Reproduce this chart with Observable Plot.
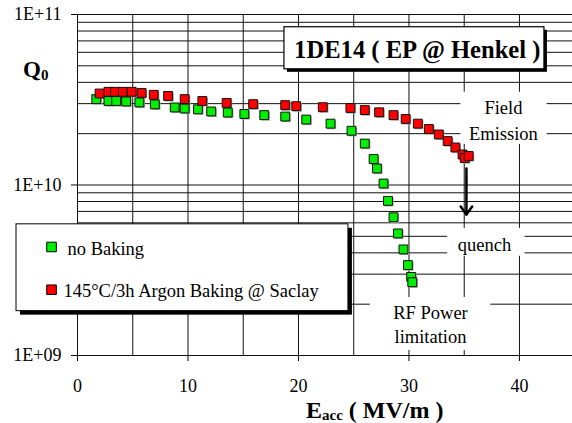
<!DOCTYPE html>
<html><head><meta charset="utf-8">
<script src="https://cdn.jsdelivr.net/npm/d3@7"></script>
<script src="https://cdn.jsdelivr.net/npm/@observablehq/plot@0.6"></script>
<style>
body{margin:0;background:#fff;}
svg{display:block}
</style>
</head><body><div id="chart"></div>
<script>
// ---- data ----
const noBakingE = [1.7,2.8,3.5,4.4,5.6,7.0,8.8,9.7,10.9,12.1,13.6,15.1,16.9,18.8,20.7,22.9,24.8,26.0,26.8,27.1,27.7,28.1,28.6,29.0,29.5,29.9,30.2,30.3];
const noBakingQ = [3.19e10,3.11e10,3.11e10,3.09e10,3.05e10,2.97e10,2.85e10,2.81e10,2.78e10,2.70e10,2.66e10,2.61e10,2.57e10,2.52e10,2.42e10,2.29e10,2.08e10,1.75e10,1.42e10,1.25e10,1.02e10,8.07e9,6.47e9,5.20e9,4.19e9,3.39e9,2.89e9,2.69e9];
const bakedE = [2.0,2.8,3.4,4.1,4.9,5.8,6.9,8.2,9.7,11.3,13.5,15.9,18.8,19.8,22.2,24.7,26.0,27.3,28.6,29.7,30.8,31.8,32.7,33.5,34.2,34.85,35.05,35.4];
const bakedQ = [3.44e10,3.52e10,3.52e10,3.52e10,3.52e10,3.47e10,3.38e10,3.33e10,3.19e10,3.11e10,3.03e10,2.98e10,2.94e10,2.90e10,2.86e10,2.83e10,2.75e10,2.67e10,2.57e10,2.44e10,2.29e10,2.13e10,1.98e10,1.81e10,1.66e10,1.51e10,1.44e10,1.48e10];
const seriesNames = ["no Baking", "145°C/3h Argon Baking @ Saclay"];
const seriesColors = ["#00ee00", "#ff0000"];
const xTicks = [0,10,20,30,40];
const xGrid = [0,5,10,15,20,25,30,35,40];
const yTicks = [1e9,1e10,1e11];
const yGrid = [1e9,2e9,3e9,4e9,5e9,6e9,7e9,8e9,9e9,1e10,2e10,3e10,4e10,5e10,6e10,7e10,8e10,9e10,1e11];
const titleText = "1DE14 ( EP @ Henkel )";

// ---- annotations (data coordinates) ----
const noteBoxes = [
  {x1:34.7, x2:42.5, y1:1.73e10, y2:3.5e10},
  {x1:33.5, x2:40.5, y1:3.82e9, y2:5.57e9},
  {x1:26.5, x2:37.4, y1:1.07e9, y2:2.19e9}
];
const notes = [
  {text:"Field", x:38.55, y:2.82e10},
  {text:"Emission", x:38.55, y:1.98e10},
  {text:"quench", x:36.83, y:4.43e9},
  {text:"RF Power", x:31.95, y:1.77e9},
  {text:"limitation", x:31.95, y:1.28e9}
];
const arrowData = [{x:35.2, y1:1.25e10, y2:6.7e9}];
const titleBox = [{x1:18.73, x2:42.26, y1:4.77e10, y2:8.42e10}];
const titleLabel = [{text:titleText, x:30.75, y:6.17e10}];
const legendBox = [{x1:-5.52, x2:24.52, y1:1.82e9, y2:5.88e9}];
const legendItems = [
  {name:seriesNames[0], color:seriesColors[0], sx:-2.35, sy:4.33e9, tx:-0.9, ty:4.2e9},
  {name:seriesNames[1], color:seriesColors[1], sx:-2.35, sy:2.43e9, tx:-1.27, ty:2.38e9}
];

const rows = [];
noBakingE.forEach((e,i)=>rows.push({series:seriesNames[0], E:e, Q:noBakingQ[i]}));
bakedE.forEach((e,i)=>rows.push({series:seriesNames[1], E:e, Q:bakedQ[i]}));

const FONT = "Liberation Serif";
const plot = Plot.plot({
  width: 572, height: 423,
  marginLeft: 77, marginRight: 0, marginTop: 14, marginBottom: 68,
  style: {fontFamily: FONT, fontSize: "18px", background: "#fff", color: "#000"},
  x: {domain: [0, 44.8]},
  y: {type: "log", domain: [1e9, 1e11]},
  color: {domain: seriesNames, range: seriesColors},
  marks: [
    Plot.ruleY(yGrid, {stroke: "#111", strokeWidth: 1}),
    Plot.ruleX(xGrid, {stroke: "#111", strokeWidth: 1}),
    Plot.rect(noteBoxes, {x1:"x1", x2:"x2", y1:"y1", y2:"y2", fill:"#fff"}),
    Plot.rect(titleBox, {x1:"x1", x2:"x2", y1:"y1", y2:"y2", fill:"#000", dx:3, dy:3}),
    Plot.rect(titleBox, {x1:"x1", x2:"x2", y1:"y1", y2:"y2", fill:"#fff", stroke:"#000", strokeWidth:1.2}),
    Plot.text(titleLabel, {x:"x", y:"y", text:"text", fontSize:24.6, fontWeight:"bold", fill:"#000"}),
    Plot.rect(legendBox, {x1:"x1", x2:"x2", y1:"y1", y2:"y2", fill:"#000", dx:4, dy:4}),
    Plot.rect(legendBox, {x1:"x1", x2:"x2", y1:"y1", y2:"y2", fill:"#fff", stroke:"#000", strokeWidth:1}),
    Plot.dot(legendItems, {x:"sx", y:"sy", symbol:"square", r:5.4, fill:"color", stroke:"#000", strokeWidth:1}),
    Plot.text(legendItems, {x:"tx", y:"ty", text:"name", textAnchor:"start", fontSize:18.5, fill:"#000"}),
    Plot.arrow(arrowData, {x1:"x", x2:"x", y1:"y1", y2:"y2", stroke:"#000", strokeWidth:2.5, headLength:6, headAngle:70}),
    Plot.dot(rows, {x:"E", y:"Q", symbol:"square", r:5, fill:"#aaa", stroke:"none", dx:1.2, dy:1.2}),
    Plot.dot(rows, {x:"E", y:"Q", symbol:"square", r:5, fill:"series", stroke:"#111", strokeWidth:1}),
    Plot.text(notes, {x:"x", y:"y", text:"text", fontSize:18.5, fill:"#000"}),
    Plot.axisY(yTicks, {tickSize:6, tickPadding:10, fontSize:18, label:null,
      tickFormat: d => "1E+" + String(Math.round(Math.log10(d))).padStart(2,"0")}),
    Plot.axisX(xTicks, {tickSize:6, tickPadding:18, fontSize:18, label:null})
  ]
});
document.getElementById("chart").appendChild(plot);

// axis titles with subscripts
const svg = d3.select(plot);
const qt = svg.append("text").attr("x", 23).attr("y", 77).attr("text-anchor", "start")
  .attr("font-family", FONT).attr("font-weight", "bold").attr("font-size", 23).attr("fill", "#000");
qt.append("tspan").text("Q");
qt.append("tspan").attr("font-size", 15).attr("dy", 3).text("0");
const xt = svg.append("text").attr("x", 306).attr("y", 418).attr("text-anchor", "start")
  .attr("font-family", FONT).attr("font-weight", "bold").attr("font-size", 24).attr("fill", "#000");
xt.append("tspan").text("E");
xt.append("tspan").attr("font-size", 15).attr("dy", 2).text("acc");
xt.append("tspan").attr("dy", -2).text(" ( MV/m )");
</script></body></html>
